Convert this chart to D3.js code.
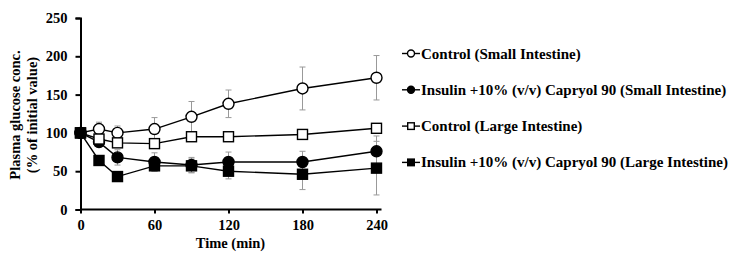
<!DOCTYPE html>
<html>
<head>
<meta charset="utf-8">
<script src="https://cdn.jsdelivr.net/npm/d3@7"></script>
<style>
  body { margin: 0; background: #fff; }
</style>
</head>
<body>
<svg id="chart"></svg>
<script>
// time points (min)
var times = [0, 15, 30, 60, 90, 120, 180, 240];

// series values (% of initial) and SD
var ctrlSmall = [100, 105, 100, 105, 121, 138, 158, 172];
var ctrlSmallErr = [0, 9, 9, 15, 20, 18, 28, 29];
var insSmall = [100, 88, 68, 62, 58, 62, 62, 76];
var insSmallErr = [0, 4, 10, 12, 10, 13, 14, 20];
var ctrlLarge = [100, 92, 87, 86, 95, 95, 98, 106];
var ctrlLargeErr = [0, 4, 4, 4, 4, 3, 4, 5];
var insLarge = [100, 64, 43, 57, 57, 50, 46, 54];
var insLargeErr = [0, 3, 3, 7, 9, 10, 20, 35];

var labels = [
  "Control (Small Intestine)",
  "Insulin +10% (v/v) Capryol 90 (Small Intestine)",
  "Control (Large Intestine)",
  "Insulin +10% (v/v) Capryol 90 (Large Intestine)"
];
var xTicks = [0, 60, 120, 180, 240];
var yTicks = [0, 50, 100, 150, 200, 250];

var FONT = "'Liberation Serif', 'Times New Roman', serif";

var width = 735, height = 259;
var svg = d3.select("#chart").attr("width", width).attr("height", height);

var x = d3.scaleLinear().domain([0, 240]).range([80.5, 376.5]);
var y = d3.scaleLinear().domain([0, 250]).range([209.5, 18]);

// series setup: marker shape + fill
var series = [
  { name: labels[0], vals: ctrlSmall, err: ctrlSmallErr, shape: "circle", fill: "#fff" },
  { name: labels[1], vals: insSmall, err: insSmallErr, shape: "circle", fill: "#000" },
  { name: labels[2], vals: ctrlLarge, err: ctrlLargeErr, shape: "square", fill: "#fff" },
  { name: labels[3], vals: insLarge, err: insLargeErr, shape: "square", fill: "#000" }
];

// axes
var xAxis = svg.append("g")
  .attr("transform", "translate(0," + y(0) + ")")
  .call(d3.axisBottom(x).tickValues(xTicks).tickSize(4).tickPadding(6));
xAxis.select(".domain").attr("d", "M" + x(0) + ",0H" + (x(240) + 5));

var yAxis = svg.append("g")
  .attr("transform", "translate(" + x(0) + ",0)")
  .call(d3.axisLeft(y).tickValues(yTicks).tickSize(5).tickPadding(8));

svg.selectAll(".domain, .tick line").attr("stroke", "#000").attr("stroke-width", 2);
svg.selectAll(".tick text")
  .style("font-family", FONT)
  .style("font-weight", "bold")
  .style("font-size", "14.5px")
  .attr("fill", "#000");

// axis titles
svg.append("text")
  .attr("x", x(120) + 2)
  .attr("y", 248)
  .attr("text-anchor", "middle")
  .style("font-family", FONT)
  .style("font-weight", "bold")
  .style("font-size", "14.5px")
  .text("Time (min)");

var yTitle = svg.append("text")
  .attr("transform", "translate(20,115) rotate(-90)")
  .attr("text-anchor", "middle")
  .style("font-family", FONT)
  .style("font-weight", "bold")
  .style("font-size", "14.5px");
yTitle.append("tspan").attr("x", 0).attr("dy", 0).text("Plasma glucose conc.");
yTitle.append("tspan").attr("x", 0).attr("dy", 17).text("(% of initial value)");

// error bars
var errG = svg.append("g");
series.forEach(function (s) {
  s.vals.forEach(function (v, i) {
    if (!s.err[i]) return;
    var cx = x(times[i]);
    errG.append("line")
      .attr("x1", cx).attr("x2", cx)
      .attr("y1", y(v - s.err[i])).attr("y2", y(v + s.err[i]))
      .attr("stroke", "#999").attr("stroke-width", 1);
    [v - s.err[i], v + s.err[i]].forEach(function (e) {
      errG.append("line")
        .attr("x1", cx - 3).attr("x2", cx + 3)
        .attr("y1", y(e)).attr("y2", y(e))
        .attr("stroke", "#999").attr("stroke-width", 1);
    });
  });
});

// lines
var line = d3.line()
  .x(function (d, i) { return x(times[i]); })
  .y(function (d) { return y(d); });

series.forEach(function (s) {
  svg.append("path")
    .datum(s.vals)
    .attr("d", line)
    .attr("fill", "none")
    .attr("stroke", "#000")
    .attr("stroke-width", 1.4);
});

function drawMarker(g, s, cx, cy, r) {
  if (s.shape === "circle") {
    g.append("circle").attr("cx", cx).attr("cy", cy).attr("r", r)
      .attr("fill", s.fill).attr("stroke", "#000").attr("stroke-width", 1.4);
  } else {
    g.append("rect").attr("x", cx - r).attr("y", cy - r)
      .attr("width", 2 * r).attr("height", 2 * r)
      .attr("fill", s.fill).attr("stroke", "#000").attr("stroke-width", 1.4);
  }
}

// markers
var markG = svg.append("g");
series.forEach(function (s) {
  s.vals.forEach(function (v, i) {
    drawMarker(markG, s, x(times[i]), y(v), s.shape === "circle" ? 5.5 : 5);
  });
});

// legend
var legend = svg.append("g");
series.forEach(function (s, i) {
  var ly = 53.5 + i * 36.3;
  legend.append("line")
    .attr("x1", 402).attr("x2", 420)
    .attr("y1", ly).attr("y2", ly)
    .attr("stroke", "#000").attr("stroke-width", 1.4);
  drawMarker(legend, s, 411, ly, s.shape === "circle" ? 3.5 : 3.3);
  legend.append("text")
    .attr("x", 421)
    .attr("y", ly + 5)
    .style("font-family", FONT)
    .style("font-weight", "bold")
    .style("font-size", "15px")
    .text(s.name);
});
</script>
</body>
</html>
